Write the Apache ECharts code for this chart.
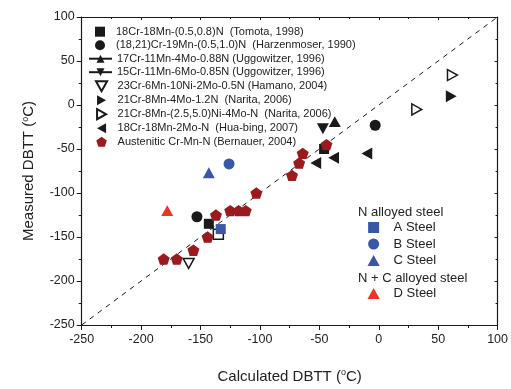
<!DOCTYPE html>
<html><head><meta charset="utf-8">
<script src="https://cdn.jsdelivr.net/npm/echarts@6/dist/echarts.min.js"></script>
<style>html,body{margin:0;padding:0;background:#fff}#c{width:511px;height:389px}</style>
</head><body><div id="c"></div>
<script>
// ---- data ----
const diagonal = [-250, 100];
const tomota = [[-143, -135], [-46, -50]];
const tomotaOpen = [[-135, -147]];
const harzen = [[-153, -127], [-3, -23]];
const ugg17 = [[-37, -19]];
const ugg15 = [[-47, -27]];
const hamano = [[-160, -180]];
const narita1 = [[61, 10]];
const narita2 = [[32, -5], [62, 34]];
const huabing = [[-53, -66], [-38, -60], [-10, -55]];
const bernauer = [[-181, -175], [-170, -175], [-156, -165], [-144, -150], [-137, -125],
  [-125, -120], [-118, -120], [-112, -120], [-103, -100], [-73, -80], [-67, -66], [-64, -55], [-44, -45]];
const steelA = [[-133, -141]];
const steelB = [[-126, -67]];
const steelC = [[-143, -77]];
const steelD = [[-178, -120]];

const names = [
  "18Cr-18Mn-(0.5,0.8)N  (Tomota, 1998)",
  "(18,21)Cr-19Mn-(0.5,1.0)N  (Harzenmoser, 1990)",
  "17Cr-11Mn-4Mo-0.88N (Uggowitzer, 1996)",
  "15Cr-11Mn-6Mo-0.85N (Uggowitzer, 1996)",
  "23Cr-6Mn-10Ni-2Mo-0.5N (Hamano, 2004)",
  "21Cr-8Mn-4Mo-1.2N  (Narita, 2006)",
  "21Cr-8Mn-(2.5,5.0)Ni-4Mo-N  (Narita, 2006)",
  "18Cr-18Mn-2Mo-N  (Hua-bing, 2007)",
  "Austenitic Cr-Mn-N (Bernauer, 2004)"
];
const steelNames = ["A Steel", "B Steel", "C Steel", "D Steel"];
const headers = ["N alloyed steel", "N + C alloyed steel"];

const FONT = "'Liberation Sans', Arial, sans-serif";
const BLACK = '#1a1a1a', DRED = '#9b1a1d', BLUE = '#3a56a6', RED = '#ee3524';
const PENT = 'path://M0,-10 L9.51,-3.09 L5.88,8.09 L-5.88,8.09 L-9.51,-3.09 Z';
const SQUARE = 'path://M0,0 L10,0 L10,10 L0,10 Z';
const TRI_UP = 'path://M5,0 L10,9 L0,9 Z';
const TRI_DOWN = 'path://M0,0 L10,0 L5,9 Z';
const TRI_RIGHT = 'path://M0,0 L9,5 L0,10 Z';
const TRI_LEFT = 'path://M9,0 L9,10 L0,5 Z';

function sc(name, data, symbol, color, size, empty) {
  return { type: 'scatter', name: name, data: data, symbol: symbol, symbolSize: size, symbolKeepAspect: true,
    itemStyle: empty ? { color: '#fff', borderColor: color, borderWidth: 1.5, opacity: 1 } : { color: color, opacity: 1 },
    z: 3 };
}
function ln(name, data, symbol) {
  return { type: 'line', name: name, data: data, symbol: symbol, symbolSize: 12, symbolKeepAspect: true,
    showSymbol: true, color: BLACK, itemStyle: { color: BLACK, opacity: 1 }, lineStyle: { color: BLACK, width: 1.4 }, z: 3 };
}

const axisCommon = {
  type: 'value', min: -250, max: 100, interval: 50,
  axisLine: { show: true, onZero: false, lineStyle: { color: BLACK, width: 1.2 } },
  splitLine: { show: false },
  minorTick: { show: true, splitNumber: 2, length: 3, lineStyle: { color: BLACK } },
  axisTick: { show: true, length: 5, lineStyle: { color: BLACK } },
};
const supRich = { s: { fontSize: 9, verticalAlign: 'top', padding: [0, 0, 8, 0], fontFamily: FONT, color: '#222' } };
const legText = { fontSize: 11, color: '#222', fontFamily: FONT };
const legText2 = { fontSize: 13, color: '#222', fontFamily: FONT };

const chart = echarts.init(document.getElementById('c'));
chart.setOption({
  animation: false,
  backgroundColor: '#fff',
  textStyle: { fontFamily: FONT },
  grid: { left: 81.7, right: 12.7, top: 17, bottom: 63 },
  xAxis: [
    Object.assign({}, axisCommon, {
      position: 'bottom',
      axisLabel: { color: '#222', fontSize: 12.5, fontFamily: FONT, margin: 8 },
      name: 'Calculated DBTT ({s|o}C)', nameLocation: 'middle', nameGap: 43,
      nameTextStyle: { fontSize: 15, color: '#222', fontFamily: FONT, rich: supRich }
    }),
    Object.assign({}, axisCommon, {
      position: 'top', axisLabel: { show: false },
      axisTick: { show: true, inside: true, length: 3, lineStyle: { color: BLACK } },
      minorTick: { show: true, splitNumber: 2, length: 2, lineStyle: { color: BLACK } }
    })
  ],
  yAxis: [
    Object.assign({}, axisCommon, {
      position: 'left',
      axisLabel: { color: '#222', fontSize: 12.5, fontFamily: FONT, margin: 7 },
      name: 'Measured DBTT ({s|o}C)', nameLocation: 'middle', nameGap: 44,
      nameTextStyle: { fontSize: 15, color: '#222', fontFamily: FONT, rich: supRich }
    }),
    Object.assign({}, axisCommon, {
      position: 'right', axisLabel: { show: false },
      axisTick: { show: true, inside: true, length: 3, lineStyle: { color: BLACK } },
      minorTick: { show: true, splitNumber: 2, length: 2, lineStyle: { color: BLACK } }
    })
  ],
  legend: [
    { data: names.slice(0, 2), orient: 'vertical', left: 95, top: 26.2, padding: 0, itemGap: 2.5, itemHeight: 10, itemWidth: 22,
      symbolKeepAspect: true, textStyle: legText, selectedMode: false },
    { data: names.slice(2, 4), orient: 'vertical', left: 88, top: 53.2, padding: 0, itemGap: 2.5, itemHeight: 10, itemWidth: 23,
      symbolKeepAspect: true, textStyle: legText, selectedMode: false },
    { data: names.slice(4), orient: 'vertical', left: 95, top: 80.2, padding: 0, itemGap: 2.5, itemHeight: 10, itemWidth: 22,
      symbolKeepAspect: true, textStyle: legText, selectedMode: false },
    { data: steelNames.slice(0, 3), orient: 'vertical', left: 367.5, top: 221, padding: 0, itemGap: 3.5, itemHeight: 11, itemWidth: 30,
      symbolKeepAspect: true, textStyle: legText2, selectedMode: false },
    { data: steelNames.slice(3), orient: 'vertical', left: 367.5, top: 287, padding: 0, itemHeight: 11, itemWidth: 30,
      symbolKeepAspect: true, textStyle: legText2, selectedMode: false }
  ],
  graphic: [
    { type: 'text', left: 358, top: 206, style: { text: headers[0], fontSize: 13, fill: '#222', fontFamily: FONT } },
    { type: 'text', left: 358, top: 272, style: { text: headers[1], fontSize: 13, fill: '#222', fontFamily: FONT } }
  ],
  series: [
    { type: 'line', name: 'diag', data: diagonal.map(v => [v, v]), symbol: 'none', silent: true,
      lineStyle: { color: BLACK, width: 1, type: [5, 5] }, z: 1 },
    sc(names[0], tomota, SQUARE, BLACK, 10),
    sc('open', tomotaOpen, SQUARE, BLACK, 10, true),
    sc(names[1], harzen, 'circle', BLACK, 11),
    ln(names[2], ugg17, TRI_UP),
    ln(names[3], ugg15, TRI_DOWN),
    sc(names[4], hamano, TRI_DOWN, BLACK, 11, true),
    sc(names[5], narita1, TRI_RIGHT, BLACK, 12),
    sc(names[6], narita2, TRI_RIGHT, BLACK, 11, true),
    sc(names[7], huabing, TRI_LEFT, BLACK, 12),
    sc(names[8], bernauer, PENT, DRED, 12),
    sc(steelNames[0], steelA, SQUARE, BLUE, 10),
    sc(steelNames[1], steelB, 'circle', BLUE, 11),
    sc(steelNames[2], steelC, TRI_UP, BLUE, 12),
    sc(steelNames[3], steelD, TRI_UP, RED, 12)
  ]
});
</script></body></html>
